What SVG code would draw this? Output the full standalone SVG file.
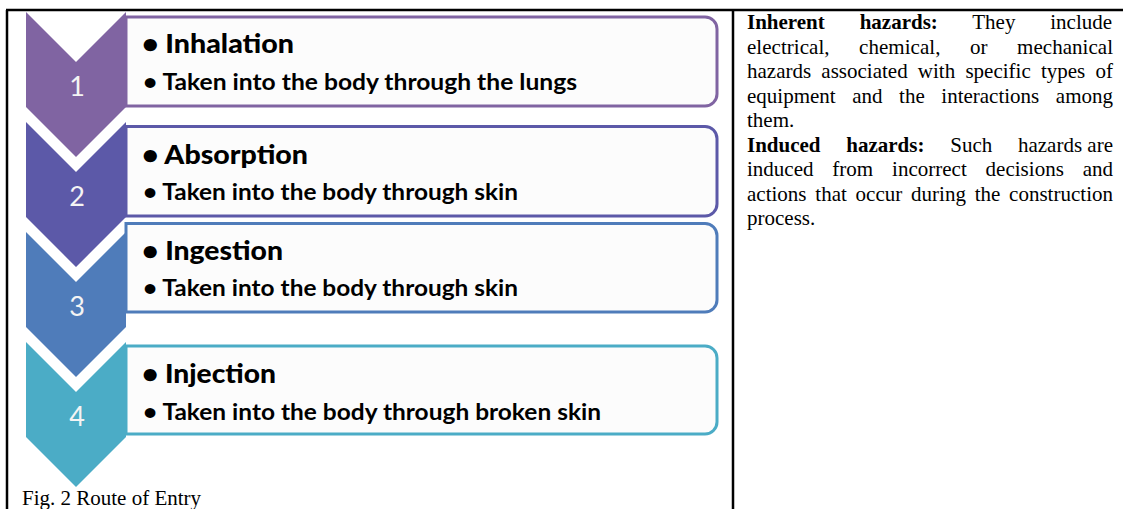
<svg xmlns="http://www.w3.org/2000/svg" width="1123" height="509" viewBox="0 0 1123 509">
<style>
.frame{stroke:#000;stroke-width:2.5;fill:none}
.box{fill:#fcfcfc;stroke-width:3}
.num{font-family:Lato,"Open Sans",sans-serif;font-size:27px;fill:#f4f4f4;text-anchor:middle}
.hd{font-family:Lato,"Open Sans",sans-serif;font-weight:900;font-size:26px;fill:#000}
.sb{font-family:Lato,"Open Sans",sans-serif;font-weight:700;font-size:22px;fill:#000}
.rt{font-family:"Liberation Serif","Times New Roman",serif;font-size:21px;fill:#000}
.b{font-weight:700}
</style>
<rect width="1123" height="509" fill="#fff"/>
<g id="frame">
<line class="frame" x1="6" y1="10" x2="1123" y2="10"/>
<line class="frame" x1="7" y1="10" x2="7" y2="509"/>
<line class="frame" x1="733" y1="10" x2="733" y2="509"/>
</g>
<g id="step1">
<path class="box" stroke="#8064A2" d="M126,17 H705 A12,12 0 0 1 717,29 V94 A12,12 0 0 1 705,106 H126 Z"/>
<polygon fill="#8064A2" points="26,12 76,62 126,12 126,107 76,157 26,107"/>
<text class="num" x="77" y="96">1</text>
<text class="hd" x="142" y="53" textLength="152" lengthAdjust="spacingAndGlyphs">• Inhalation</text>
<text class="sb" x="143" y="90" textLength="434" lengthAdjust="spacingAndGlyphs">• Taken into the body through the lungs</text>
</g>
<g id="step2">
<path class="box" stroke="#5C59A8" d="M126,126.5 H705 A12,12 0 0 1 717,138.5 V204 A12,12 0 0 1 705,216 H126 Z"/>
<polygon fill="#5C59A8" points="26,122 76,172 126,122 126,217 76,267 26,217"/>
<text class="num" x="77" y="206">2</text>
<text class="hd" x="142" y="164" textLength="166" lengthAdjust="spacingAndGlyphs">• Absorption</text>
<text class="sb" x="143" y="200" textLength="375" lengthAdjust="spacingAndGlyphs">• Taken into the body through skin</text>
</g>
<g id="step3">
<path class="box" stroke="#4F7CBA" d="M126,223.5 H705 A12,12 0 0 1 717,235.5 V300 A12,12 0 0 1 705,312 H126 Z"/>
<polygon fill="#4F7CBA" points="26,232 76,282 126,232 126,327 76,377 26,327"/>
<text class="num" x="77" y="316">3</text>
<text class="hd" x="142" y="260" textLength="141" lengthAdjust="spacingAndGlyphs">• Ingestion</text>
<text class="sb" x="143" y="296" textLength="375" lengthAdjust="spacingAndGlyphs">• Taken into the body through skin</text>
</g>
<g id="step4">
<path class="box" stroke="#4BACC6" d="M126,346 H705 A12,12 0 0 1 717,358 V422 A12,12 0 0 1 705,434 H126 Z"/>
<polygon fill="#4BACC6" points="26,342 76,392 126,342 126,437 76,487 26,437"/>
<text class="num" x="77" y="426">4</text>
<text class="hd" x="142" y="383" textLength="134" lengthAdjust="spacingAndGlyphs">• Injection</text>
<text class="sb" x="143" y="420" textLength="458" lengthAdjust="spacingAndGlyphs">• Taken into the body through broken skin</text>
</g>
<g id="caption">
<text class="rt" x="22" y="505">Fig. 2 Route of Entry</text>
</g>
<g id="hazards-text">
<text class="rt" x="747" y="29" word-spacing="29.6"><tspan class="b">Inherent hazards:</tspan> They include</text>
<text class="rt" x="747" y="53.5" word-spacing="24.3" textLength="366" lengthAdjust="spacing">electrical, chemical, or mechanical</text>
<text class="rt" x="747" y="78" word-spacing="5" textLength="366" lengthAdjust="spacing">hazards associated with specific types of</text>
<text class="rt" x="747" y="102.5" word-spacing="11.3" textLength="366" lengthAdjust="spacing">equipment and the interactions among</text>
<text class="rt" x="747" y="127">them.</text>
<text class="rt" x="747" y="151.5" word-spacing="20.5"><tspan class="b">Induced hazards:</tspan> Such <tspan word-spacing="0">hazards are</tspan></text>
<text class="rt" x="747" y="176" word-spacing="13.6" textLength="366" lengthAdjust="spacing">induced from incorrect decisions and</text>
<text class="rt" x="747" y="200.5" word-spacing="3.5" textLength="366" lengthAdjust="spacing">actions that occur during the construction</text>
<text class="rt" x="747" y="225">process.</text>
</g>
</svg>
